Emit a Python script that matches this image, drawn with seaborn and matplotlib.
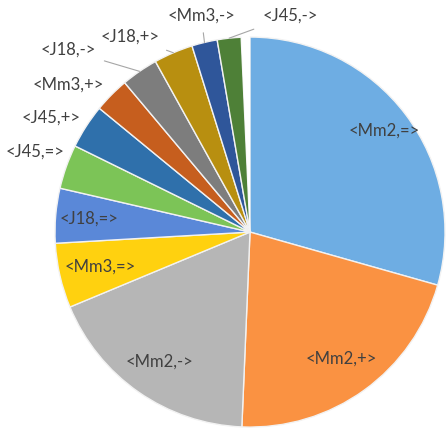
import numpy as np
import seaborn as sns
import matplotlib.pyplot as plt

# -----------------------------
# Data (slice sizes, in degrees of the circle)
# -----------------------------
labels = ['<Mm2,=>', '<Mm2,+>', '<Mm2,->', '<Mm3,=>', '<J18,=>', '<J45,=>',
          '<J45,+>', '<Mm3,+>', '<J18,->', '<J18,+>', '<Mm3,->', '<J45,->', '']
values = [105.8, 76.6, 65.0, 19.3, 16.3, 13.2, 13.2, 10.6, 11.0, 11.7, 7.6, 7.1, 2.6]
colors = ['#6EADE3', '#FA9242', '#B6B6B6', '#FFD10F', '#5A88D8', '#7CC457',
          '#2F70AB', '#C65E1E', '#7D7D7D', '#B88F10', '#2F569A', '#4E8037', '#FFFFFF']

# labels drawn inside the slice (radius as fraction of pie radius)
inside = {'<Mm2,=>': 0.86, '<Mm2,+>': 0.80, '<Mm2,->': 0.81, '<Mm3,=>': 0.79, '<J18,=>': 0.83}
# labels placed outside (text centre, whether a leader line is drawn)
outside = {
    '<J45,=>': ((-1.10, 0.41), False),
    '<J45,+>': ((-1.02, 0.585), False),
    '<Mm3,+>': ((-0.933, 0.755), False),
    '<J18,->': ((-0.933, 0.933), True),
    '<J18,+>': ((-0.613, 1.0), True),
    '<Mm3,->': ((-0.25, 1.108), True),
    '<J45,->': ((0.205, 1.108), True),
}

sns.set_theme(style='white')
plt.rcParams['font.family'] = ['Lato', 'DejaVu Sans']
text_color = '#404040'

fig = plt.figure(figsize=(4.46, 4.30), dpi=100)
ax = fig.add_axes([0, 0, 1, 1])

wedges, _ = ax.pie(
    values,
    colors=colors,
    startangle=90,
    counterclock=False,
    radius=1.0,
    wedgeprops=dict(edgecolor='#F2F2F2', linewidth=1.0)
)
# the tiny last slice is just a white gap
wedges[-1].set_edgecolor('none')

for w, lab in zip(wedges, labels):
    if not lab:
        continue
    mid = np.deg2rad((w.theta1 + w.theta2) / 2)
    if lab in inside:
        r = inside[lab]
        ax.text(r * np.cos(mid), r * np.sin(mid), lab, ha='center', va='center',
                fontsize=12, color=text_color)
    else:
        (tx, ty), leader = outside[lab]
        if leader:
            ax.annotate(lab, xy=(np.cos(mid), np.sin(mid)), xytext=(tx, ty),
                        ha='center', va='center', fontsize=12, color=text_color,
                        arrowprops=dict(arrowstyle='-', color='#A6A6A6', lw=0.8,
                                        shrinkA=4, shrinkB=0))
        else:
            ax.text(tx, ty, lab, ha='center', va='center', fontsize=12, color=text_color)

ax.set_xlim(-1.282, 1.005)
ax.set_ylim(-1.015, 1.19)
ax.set_aspect('equal', adjustable='box')
ax.axis('off')

plt.savefig('out.png', dpi=100)
